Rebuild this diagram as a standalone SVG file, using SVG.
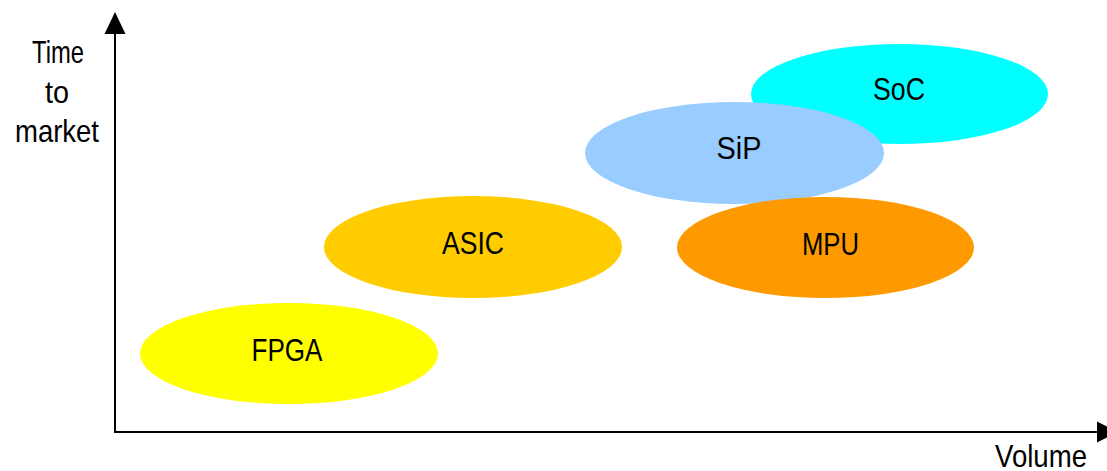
<svg xmlns="http://www.w3.org/2000/svg" width="1107" height="471" viewBox="0 0 1107 471">
  <style>
    .lbl { font-family: "Liberation Sans", Arial, sans-serif; font-size: 32px; fill: #000; text-anchor: middle; }
    .axis { stroke: #000; stroke-width: 2; fill: none; }
  </style>
  <rect width="1107" height="471" fill="#fff"/>
  <g id="connectors">
    <line class="axis" x1="115" y1="433" x2="115" y2="30"/>
    <polygon points="115,12 104.5,34 125.5,34" fill="#000"/>
    <line class="axis" x1="114" y1="432" x2="1100" y2="432"/>
    <polygon points="1118,432 1097,421.5 1097,442.5" fill="#000"/>
  </g>
  <g id="axis-y-label">
    <text class="lbl" x="58" y="63" textLength="52" lengthAdjust="spacingAndGlyphs">Time</text>
    <text class="lbl" x="57" y="103" textLength="24" lengthAdjust="spacingAndGlyphs">to</text>
    <text class="lbl" x="57" y="142" textLength="84" lengthAdjust="spacingAndGlyphs">market</text>
  </g>
  <g id="axis-x-label">
    <text class="lbl" x="1041" y="467" textLength="92" lengthAdjust="spacingAndGlyphs">Volume</text>
  </g>
  <g id="soc">
    <ellipse cx="899.5" cy="94" rx="148.5" ry="50" fill="#00FFFF"/>
    <text class="lbl" x="899" y="100" textLength="52" lengthAdjust="spacingAndGlyphs">SoC</text>
  </g>
  <g id="sip">
    <ellipse cx="734.5" cy="153" rx="149.5" ry="51" fill="#99CCFF"/>
    <text class="lbl" x="739" y="159" textLength="45" lengthAdjust="spacingAndGlyphs">SiP</text>
  </g>
  <g id="mpu">
    <ellipse cx="825.5" cy="247.5" rx="148.5" ry="50.5" fill="#FF9900"/>
    <text class="lbl" x="830.5" y="255" textLength="57" lengthAdjust="spacingAndGlyphs">MPU</text>
  </g>
  <g id="asic">
    <ellipse cx="473" cy="247" rx="149" ry="51" fill="#FFCC00"/>
    <text class="lbl" x="473" y="254" textLength="62" lengthAdjust="spacingAndGlyphs">ASIC</text>
  </g>
  <g id="fpga">
    <ellipse cx="289" cy="353.5" rx="149" ry="50.5" fill="#FFFF00"/>
    <text class="lbl" x="287" y="361" textLength="71" lengthAdjust="spacingAndGlyphs">FPGA</text>
  </g>
</svg>
